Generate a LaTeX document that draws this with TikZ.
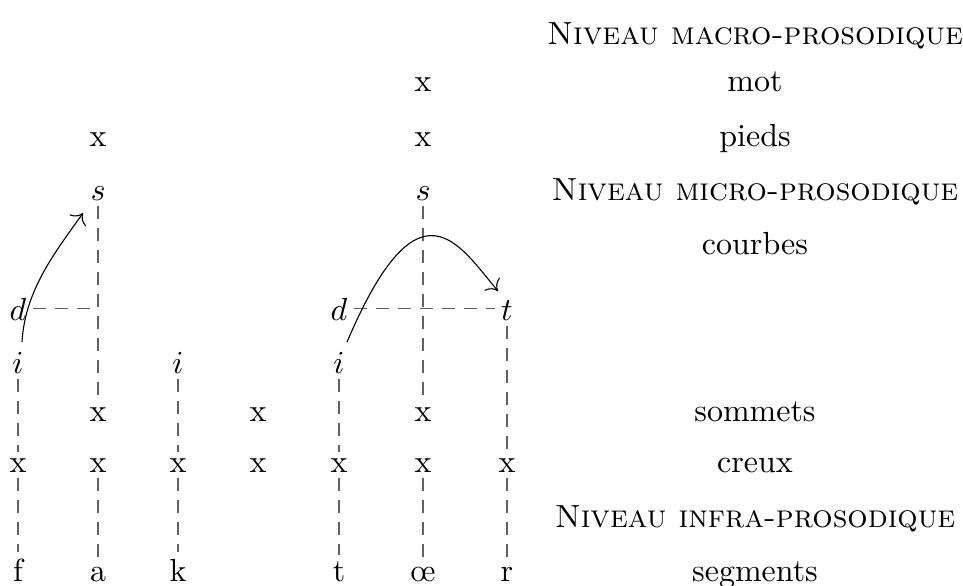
\documentclass[tikz,border=0pt]{standalone}
\usepackage{fontspec}
\usepackage{graphicx}
\usetikzlibrary{arrows.meta}
\newcommand\wx[1]{\scalebox{1.6}{#1}}
\begin{document}
\begin{tikzpicture}[x=0.5pt,y=-0.5pt,
  n/.style={anchor=base, inner sep=3pt},
  dl/.style={draw=black!62, line width=0.6pt, dash pattern=on 6.5pt off 4.5pt},
  arc/.style={-{To[scale=1.7]}, line width=0.55pt},
]
\useasboundingbox (0,0) rectangle (963,585);
% level labels
\node[n] (Lmacro) at (755,44) {\wx{\textsc{Niveau macro-prosodique}}};
\node[n] (Lmot) at (755,91) {\wx{mot}};
\node[n] (Lpieds) at (755,146) {\wx{pieds}};
\node[n] (Lmicro) at (755,200) {\wx{\textsc{Niveau micro-prosodique}}};
\node[n] (Lcourbes) at (755,254) {\wx{courbes}};
\node[n] (Lsommets) at (755,421) {\wx{sommets}};
\node[n] (Lcreux) at (755,472) {\wx{creux}};
\node[n] (Linfra) at (755,527) {\wx{\textsc{Niveau infra-prosodique}}};
\node[n] (Lseg) at (755,581) {\wx{segments}};
% mot / pieds
\node[n] (xm6) at (423,91) {\wx{x}};
\node[n] (xp2) at (98,146) {\wx{x}};
\node[n] (xp6) at (423,146) {\wx{x}};
% s
\node[n] (s2) at (98,200) {\wx{$s$}};
\node[n] (s6) at (423,200) {\wx{$s$}};
% d / t
\node[n] (d1) at (18,320) {\wx{$d$}};
\node[n] (d5) at (339,320) {\wx{$d$}};
\node[n] (t7) at (507,320) {\wx{$t$}};
% i
\node[n] (i1) at (18,373) {\wx{$i$}};
\node[n] (i3) at (178,373) {\wx{$i$}};
\node[n] (i5) at (339,373) {\wx{$i$}};
% sommets
\node[n] (xs2) at (98,421) {\wx{x}};
\node[n] (xs4) at (258,421) {\wx{x}};
\node[n] (xs6) at (423,421) {\wx{x}};
% creux
\node[n] (xc1) at (18,472) {\wx{x}};
\node[n] (xc2) at (98,472) {\wx{x}};
\node[n] (xc3) at (178,472) {\wx{x}};
\node[n] (xc4) at (258,472) {\wx{x}};
\node[n] (xc5) at (339,472) {\wx{x}};
\node[n] (xc6) at (423,472) {\wx{x}};
\node[n] (xc7) at (507,472) {\wx{x}};
% segments
\node[n] (sf) at (18,581) {\wx{f}};
\node[n] (sa) at (98,581) {\wx{a}};
\node[n] (sk) at (178,581) {\wx{k}};
\node[n] (st) at (339,581) {\wx{t}};
\node[n] (so) at (423,581) {\wx{\oe}};
\node[n] (sr) at (507,581) {\wx{r}};
% dashed connectors
\draw[dl] (i1) -- (xc1);
\draw[dl] (xc1) -- (sf);
\draw[dl] (s2) -- (xs2);
\draw[dl] (xc2) -- (sa);
\draw[dl] (i3) -- (xc3);
\draw[dl] (xc3) -- (sk);
\draw[dl] (i5) -- (xc5);
\draw[dl] (xc5) -- (st);
\draw[dl] (s6) -- (xs6);
\draw[dl] (xc6) -- (so);
\draw[dl] (t7) -- (xc7);
\draw[dl] (xc7) -- (sr);
\draw[dl] (d1) -- (d1 -| s2);
\draw[dl] (d5.east) -- (d5.east -| t7.west);
% curves
\draw[arc] ([shift={(4,-31)}]i1.base) .. controls +(3,-53) and +(-26,37) .. ([shift={(-15,13)}]s2.base);
\draw[arc] ([shift={(8,-31)}]i5.base) .. controls +(72,-169) and +(-39,-46) .. ([shift={(-9,-29)}]t7.base);
\end{tikzpicture}
\end{document}
